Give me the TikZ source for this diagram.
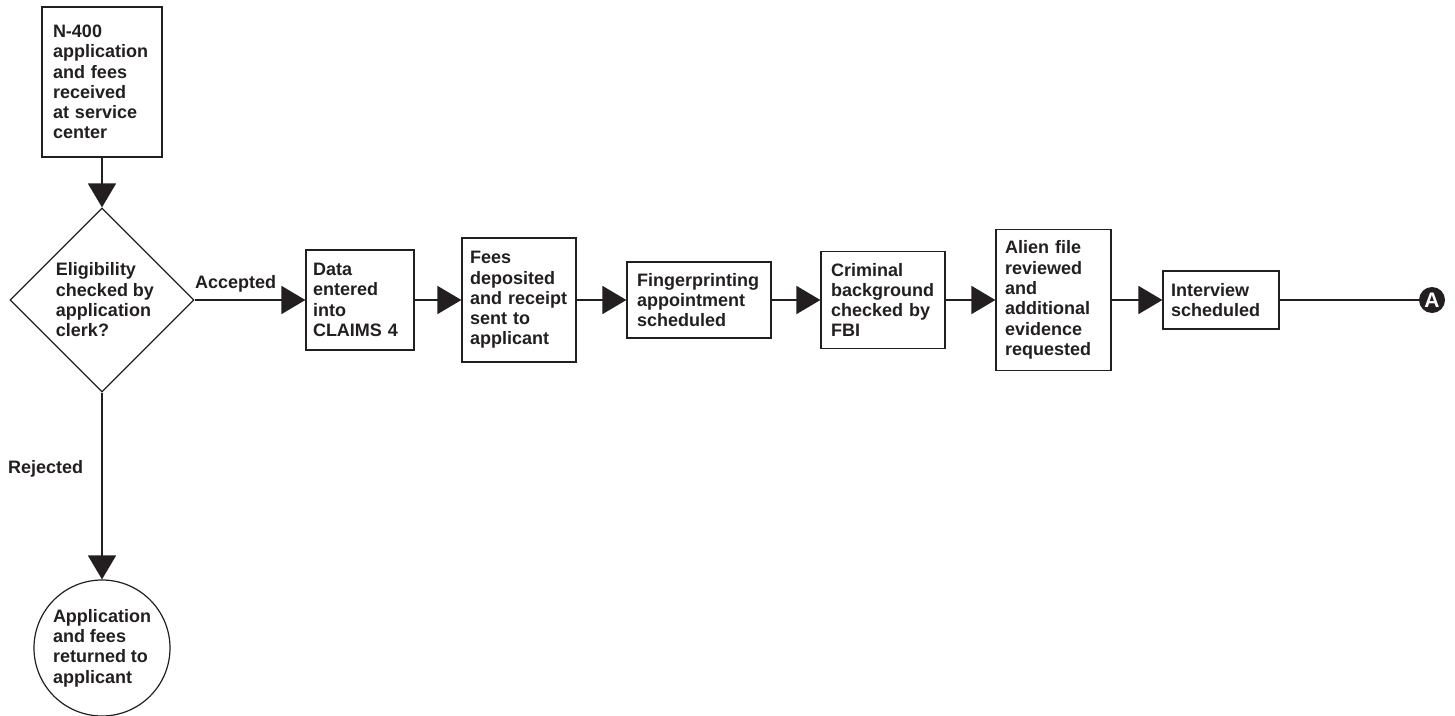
\documentclass[tikz,border=0pt]{standalone}
\usepackage{fontspec}
\setmainfont{Liberation Sans}
\usetikzlibrary{arrows.meta,shapes.geometric}
\definecolor{ink}{RGB}{35,31,32}
\tikzset{
  every node/.style={font=\fontsize{18}{20.3}\selectfont\bfseries, text=ink},
  stepbox/.style={draw=ink, line width=1.2pt, rectangle, inner ysep=0pt, align=left},
  conn/.style={draw=ink, line width=1.6pt},
  arr/.style={conn, -{Triangle[length=24pt,width=28pt]}},
  lbl/.style={inner sep=0pt},
}
\begin{document}
\begin{tikzpicture}[x=1pt,y=-1pt]
\useasboundingbox (0,0) rectangle (1455,715);

\node[stepbox, inner xsep=11pt, text width=98pt, minimum height=150pt] (n400) at (102,82)
  {N-400\\application\\and fees\\received\\at service\\center};

\node[diamond, draw=ink, line width=1.2pt, inner sep=0pt, minimum width=184pt, minimum height=184pt, align=left] (dia) at (102,300)
  {\hspace*{6pt}Eligibility\\\hspace*{6pt}checked by\\\hspace*{6pt}application\\\hspace*{6pt}clerk?};

\node[circle, draw=ink, line width=1.2pt, inner sep=0pt, minimum size=136pt, align=left] (ret) at (102,648)
  {Application\\and fees\\returned to\\applicant};

\node[stepbox, inner xsep=7pt, text width=94pt, minimum height=100pt] (data) at (360,300)
  {Data\\entered\\into\\CLAIMS 4};
\node[stepbox, inner xsep=8pt, text width=98pt, minimum height=124pt] (fees) at (519,300)
  {Fees\\deposited\\and receipt\\sent to\\applicant};
\node[stepbox, inner xsep=10pt, text width=124pt, minimum height=76pt] (fing) at (699,300)
  {Fingerprinting\\appointment\\scheduled};
\node[stepbox, inner xsep=10pt, text width=104pt, minimum height=97pt] (crim) at (883,300)
  {Criminal\\background\\checked by\\FBI};
\node[stepbox, inner xsep=9pt, text width=97pt, minimum height=141pt] (alien) at (1053.5,300)
  {Alien file\\reviewed\\and\\additional\\evidence\\requested};
\node[stepbox, inner xsep=8pt, text width=100pt, minimum height=58pt] (intv) at (1221,300)
  {Interview\\scheduled};

\node[circle, fill=ink, inner sep=0pt, minimum size=26pt, text=white, font=\fontsize{21}{21}\selectfont\bfseries] (conA) at (1432,300) {A};

\node[lbl, anchor=base west] (acc) at (195,288) {Accepted};
\node[lbl, anchor=base west] (rej) at (8,473) {Rejected};

\draw[arr] (n400.south) -- (dia.north);
\draw[arr] (dia.east) -- (data.west);
\draw[arr] (dia.south) -- (ret.north);
\draw[arr] (data.east) -- (fees.west);
\draw[arr] (fees.east) -- (fing.west);
\draw[arr] (fing.east) -- (crim.west);
\draw[arr] (crim.east) -- (alien.west);
\draw[arr] (alien.east) -- (intv.west);
\draw[conn] (intv.east) -- (conA.west);
\end{tikzpicture}
\end{document}
